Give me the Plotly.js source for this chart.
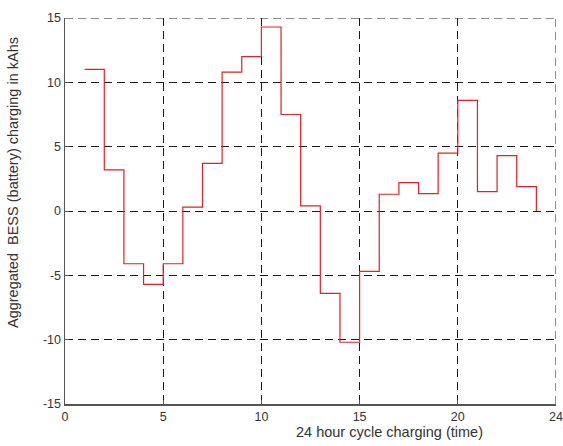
<!DOCTYPE html>
<html>
<head>
<meta charset="utf-8">
<script src="https://cdn.plot.ly/plotly-3.0.1.min.js"></script>
<style>html,body{margin:0;padding:0;background:#fff;}#chart{width:563px;height:446px;}</style>
</head>
<body>
<div id="chart"></div>
<script>
// Hour index (stairs breakpoints)
var hours = [1,2,3,4,5,6,7,8,9,10,11,12,13,14,15,16,17,18,19,20,21,22,23,24];
// Aggregated BESS charging (kAhs)
var charging = [11, 3.2, -4.1, -5.7, -4.1, 0.3, 3.7, 10.8, 12, 14.3, 7.5, 0.4, -6.4, -10.2, -4.7, 1.3, 2.2, 1.35, 4.5, 8.6, 1.5, 4.3, 1.9, 0];
var xTickVals = [0,5,10,15,20,25];
var xTickText = ['0','5','10','15','20','24'];
var yTickVals = [-15,-10,-5,0,5,10,15];
var yTickText = ['-15','-10','-5','0','5','10','15'];

var trace = {
  x: hours, y: charging, type: 'scatter', mode: 'lines',
  line: {shape: 'hv', color: '#e0202a', width: 1.2},
  hoverinfo: 'skip'
};
var gridDash = '8px,5px';
var gridColor = '#1a1a1a';
var xMax = xTickVals[xTickVals.length - 1];
var yMax = yTickVals[yTickVals.length - 1];
var yMin = yTickVals[0];
var layout = {
  width: 563, height: 446,
  margin: {l: 65, r: 7, t: 18, b: 42},
  paper_bgcolor: '#fff', plot_bgcolor: '#fff',
  showlegend: false,
  font: {family: 'Liberation Sans, Arial, sans-serif', size: 12, color: '#333'},
  xaxis: {
    range: [0, xMax], tickvals: xTickVals, ticktext: xTickText,
    showgrid: true, gridcolor: gridColor, griddash: gridDash, gridwidth: 1,
    zeroline: false, showline: true, linecolor: '#555', linewidth: 1.5,
    ticks: 'inside', ticklen: 4, tickcolor: '#555', mirror: false,
    tickfont: {size: 12.5, color: '#333'}
  },
  yaxis: {
    range: [yMin, yMax], tickvals: yTickVals, ticktext: yTickText,
    showgrid: true, gridcolor: gridColor, griddash: gridDash, gridwidth: 1,
    zeroline: false, showline: true, linecolor: '#555', linewidth: 1.5,
    ticks: 'inside', ticklen: 4, tickcolor: '#555', mirror: false,
    tickfont: {size: 12.5, color: '#333'}
  },
  shapes: [
    {type: 'line', xref: 'x', yref: 'y', x0: 0, x1: xMax, y0: yMax, y1: yMax, layer: 'below',
     line: {color: gridColor, width: 1, dash: gridDash}},
    {type: 'line', xref: 'x', yref: 'y', x0: xMax, x1: xMax, y0: yMin, y1: yMax, layer: 'below',
     line: {color: gridColor, width: 1, dash: gridDash}}
  ],
  annotations: [
    {text: '24 hour cycle charging (time)', xref: 'paper', yref: 'paper',
     x: 0.66, y: -0.072, xanchor: 'center', yanchor: 'middle', showarrow: false,
     font: {size: 14.5, color: '#333'}},
    {text: 'Aggregated  BESS (battery) charging in kAhs', xref: 'paper', yref: 'paper',
     x: -0.106, y: 0.575, xanchor: 'center', yanchor: 'middle', showarrow: false, textangle: -90,
     font: {size: 14.5, color: '#333'}}
  ]
};
Plotly.newPlot('chart', [trace], layout, {displayModeBar: false, staticPlot: true});
</script>
</body>
</html>
